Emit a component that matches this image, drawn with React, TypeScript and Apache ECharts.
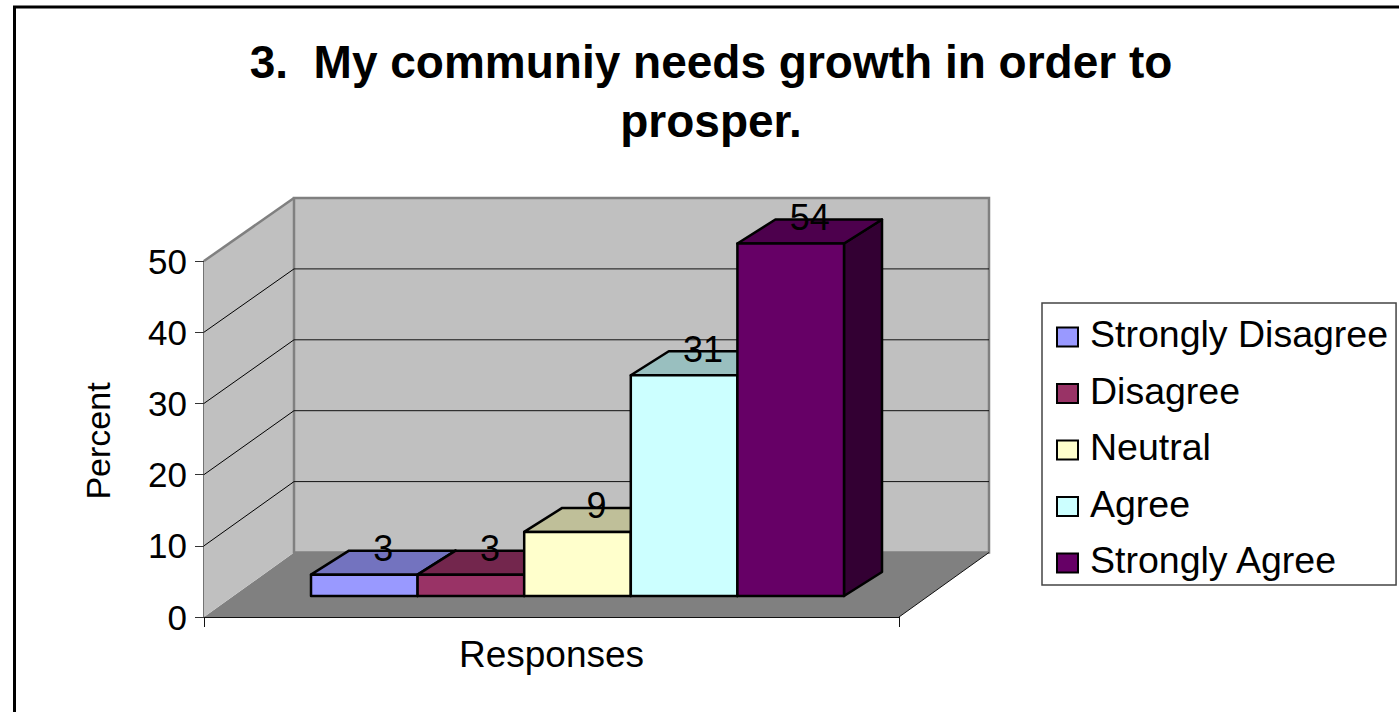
import React, { useEffect, useRef } from "react";
import * as echarts from "echarts";

const titleText = "3.  My communiy needs growth in order to\nprosper.";
const xAxisTitle = "Responses";
const yAxisTitle = "Percent";
const categories = [""];
const responses = ["Strongly Disagree", "Disagree", "Neutral", "Agree", "Strongly Agree"];
const percents = [3, 3, 9, 31, 54];
const colors = ["#9999FF", "#993366", "#FFFFCC", "#CCFFFF", "#660066"];
const yMin = 0;
const yMax = 50;
const yInterval = 10;
const yTicks = [10, 20, 30, 40, 50];

// Projection of the 3D box, in pixels.
const WALL_DX = 90;
const WALL_DY = -64.5;
const BACK_SCALE = 354.5 / 356;
const BAR_FRONT_DX = 26;
const BAR_FRONT_DY = -21;
const BAR_DEPTH_DX = 38;
const BAR_DEPTH_DY = -24;
const BAR_BAND_RATIO = 106.6 / 695;
// Columns taller than the axis stop just under the top of the wall.
const BAR_CEILING = 49.5;

const shade = (hex: string, k: number) => {
  const n = parseInt(hex.slice(1), 16);
  const c = [(n >> 16) & 255, (n >> 8) & 255, n & 255].map((v) => Math.round(v * k));
  return `rgb(${c[0]},${c[1]},${c[2]})`;
};

const renderWalls = (_p: any, api: any) => {
  const [x0, y0] = api.coord([0, 0]);
  const w = api.size([1, 0])[0];
  const left = x0 - w / 2;
  const right = x0 + w / 2;
  const h = y0 - api.coord([0, yMax])[1];
  const backL = left + WALL_DX;
  const backR = right + WALL_DX;
  const backB = y0 + WALL_DY;
  const backT = backB - h * BACK_SCALE;
  const frontT = y0 - h;
  const children: any[] = [
    {
      type: "polygon",
      shape: { points: [[left, y0], [right, y0], [backR, backB], [backL, backB]] },
      style: { fill: "#808080", stroke: "none" },
    },
    {
      type: "polygon",
      shape: { points: [[left, y0], [left, frontT], [backL, backT], [backL, backB]] },
      style: { fill: "#C0C0C0", stroke: "none" },
    },
    {
      type: "rect",
      shape: { x: backL, y: backT, width: backR - backL, height: backB - backT },
      style: { fill: "#C0C0C0", stroke: "#808080", lineWidth: 2.5 },
    },
  ];
  yTicks.forEach((t) => {
    const fy = api.coord([0, t])[1];
    const by = backB - (y0 - fy) * BACK_SCALE;
    if (t < yMax) {
      children.push({
        type: "line",
        shape: { x1: backL, y1: by, x2: backR, y2: by },
        style: { stroke: "#111", lineWidth: 1 },
      });
      children.push({
        type: "line",
        shape: { x1: left, y1: fy, x2: backL, y2: by },
        style: { stroke: "#000", lineWidth: 1 },
      });
    }
  });
  // Edges of the box that border the page.
  children.push({
    type: "line",
    shape: { x1: left, y1: frontT, x2: backL, y2: backT },
    style: { stroke: "#808080", lineWidth: 2.5 },
  });
  children.push({
    type: "line",
    shape: { x1: right, y1: y0, x2: backR, y2: backB },
    style: { stroke: "#111", lineWidth: 1 },
  });
  return { type: "group", children };
};

const makeBarRenderer = (index: number) => (_p: any, api: any) => {
  const value = api.value(1);
  const [cx, y0] = api.coord([0, 0]);
  const band = api.size([1, 0])[0];
  const bw = band * BAR_BAND_RATIO;
  const top = api.coord([0, Math.min(value, BAR_CEILING)])[1] + BAR_FRONT_DY;
  const bottom = y0 + BAR_FRONT_DY;
  const x1 = cx + BAR_FRONT_DX + (index - responses.length / 2) * bw;
  const x2 = x1 + bw;
  const dx = BAR_DEPTH_DX;
  const dy = BAR_DEPTH_DY;
  const color = colors[index];
  const stroke = { stroke: "#000", lineWidth: 2.5, lineJoin: "round" };
  return {
    type: "group",
    children: [
      {
        type: "polygon",
        shape: { points: [[x2, top], [x2 + dx, top + dy], [x2 + dx, bottom + dy], [x2, bottom]] },
        style: { fill: shade(color, 0.5), ...stroke },
      },
      {
        type: "polygon",
        shape: { points: [[x1, top], [x1 + dx, top + dy], [x2 + dx, top + dy], [x2, top]] },
        style: { fill: shade(color, 0.75), ...stroke },
      },
      {
        type: "rect",
        shape: { x: x1, y: top, width: bw, height: bottom - top },
        style: { fill: color, ...stroke },
      },
    ],
  };
};

// Value labels sit above every column, centred on the back edge of the top face.
const makeLabelRenderer = (index: number) => (_p: any, api: any) => {
  const value = api.value(1);
  const [cx] = api.coord([0, 0]);
  const band = api.size([1, 0])[0];
  const bw = band * BAR_BAND_RATIO;
  const top = api.coord([0, Math.min(value, BAR_CEILING)])[1] + BAR_FRONT_DY;
  const x = cx + BAR_FRONT_DX + (index - responses.length / 2 + 0.5) * bw + BAR_DEPTH_DX / 2;
  return {
    type: "text",
    x,
    y: top + BAR_DEPTH_DY - 2,
    style: {
      text: String(value),
      fill: "#000",
      font: '36px "Liberation Sans", Arial, sans-serif',
      textAlign: "center",
      textVerticalAlign: "middle",
    },
  };
};

const FONT = '"Liberation Sans", Arial, sans-serif';

export default function App() {
  const ref = useRef<HTMLDivElement>(null);
  useEffect(() => {
    document.body.style.margin = "0";
    const chart = echarts.init(ref.current!, undefined, { renderer: "svg" });
    chart.setOption({
      animation: false,
      backgroundColor: "#fff",
      textStyle: { fontFamily: FONT },
      title: {
        text: titleText,
        left: 706,
        top: 27,
        textAlign: "center",
        textStyle: {
          fontSize: 46,
          fontWeight: "bold",
          fontFamily: FONT,
          color: "#000",
          lineHeight: 59,
        },
      },
      legend: {
        orient: "vertical",
        left: 1042,
        top: 303,
        data: responses,
        icon: "rect",
        itemWidth: 21,
        itemHeight: 19,
        itemGap: 18.5,
        padding: [12, 8, 6, 14],
        borderColor: "#444",
        borderWidth: 1.5,
        selectedMode: false,
        itemStyle: { borderColor: "#000", borderWidth: 2 },
        formatter: (name: string) => `{entry|${name}}`,
        textStyle: {
          fontFamily: FONT,
          color: "#000",
          rich: {
            // Entry text rides a little above its swatch.
            entry: {
              fontSize: 37.5,
              fontFamily: FONT,
              color: "#000",
              lineHeight: 44,
              verticalAlign: "top",
              padding: [0, 0, 0, 7],
            },
          },
        },
      },
      grid: { left: 204, right: 500, top: 261, bottom: 95, containLabel: false },
      xAxis: {
        type: "category",
        data: categories,
        name: xAxisTitle,
        nameLocation: "middle",
        nameGap: 19,
        nameTextStyle: { fontSize: 37, fontFamily: FONT, color: "#000" },
        axisLine: { lineStyle: { color: "#111", width: 1 } },
        axisTick: { show: true, length: 10, lineStyle: { color: "#111" } },
        axisLabel: { show: false },
      },
      yAxis: {
        type: "value",
        min: yMin,
        max: yMax,
        interval: yInterval,
        name: yAxisTitle,
        nameLocation: "middle",
        nameGap: 89,
        nameRotate: 90,
        nameTextStyle: { fontSize: 34, fontFamily: FONT, color: "#000", padding: [0, 4, 0, 0] },
        axisLine: { show: true, lineStyle: { color: "#444", width: 1.5 } },
        axisTick: { show: true, length: 9, lineStyle: { color: "#333" } },
        axisLabel: { fontSize: 35, fontFamily: FONT, color: "#000", margin: 17, padding: [6, 0, 0, 0] },
        splitLine: { show: false },
      },
      graphic: [
        {
          type: "rect",
          z: -10,
          silent: true,
          shape: { x: 14.5, y: 7, width: 1500, height: 800 },
          style: { fill: "none", stroke: "#000", lineWidth: 3 },
        },
      ],
      series: [
        {
          type: "custom",
          name: "walls",
          silent: true,
          z: 1,
          data: [[0, 0]],
          renderItem: renderWalls,
        },
        ...responses.map((name, i) => ({
          type: "custom",
          name,
          silent: true,
          z: 3 + i,
          itemStyle: { color: colors[i] },
          data: [[0, percents[i]]],
          renderItem: makeBarRenderer(i),
        })),
        ...responses.map((name, i) => ({
          type: "custom",
          name: name + " label",
          silent: true,
          z: 10,
          data: [[0, percents[i]]],
          renderItem: makeLabelRenderer(i),
        })),
      ],
    });
    return () => chart.dispose();
  }, []);
  return <div ref={ref} style={{ width: 1399, height: 712 }} />;
}
